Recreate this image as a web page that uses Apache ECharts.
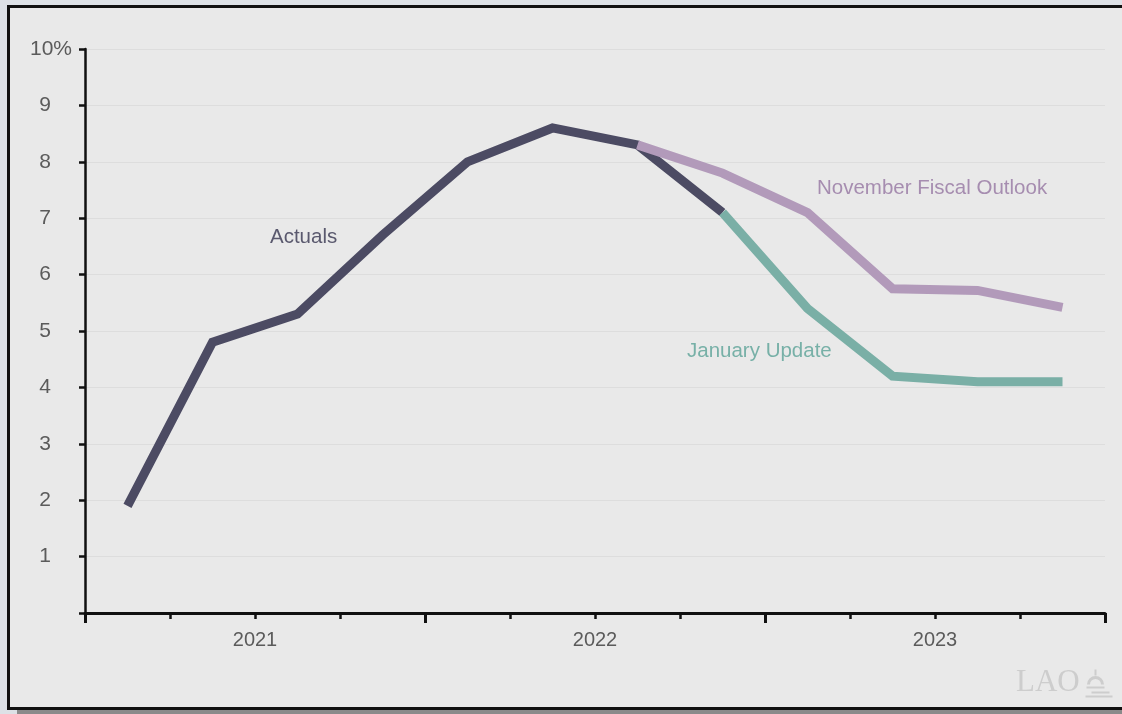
<!DOCTYPE html>
<html>
<head>
<meta charset="utf-8">
<script src="https://cdn.jsdelivr.net/npm/echarts@6/dist/echarts.min.js"></script>
<style>
  html, body { margin: 0; padding: 0; width: 1122px; height: 714px; overflow: hidden; background: #dde1e6; }
  #frame { position: absolute; left: 7px; top: 5px; width: 1130px; height: 699px;
           border: 3px solid #111; background: #e9e9e9; box-shadow: 10px 5px 0 #8a8a8a; }
  #chart { position: absolute; left: 0; top: 0; width: 1122px; height: 714px; }
</style>
</head>
<body>
<div id="frame"></div>
<div id="chart"></div>
<script>
// Quarterly categories (2021 Q1 .. 2023 Q4)
const quarters = ['2021 Q1','2021 Q2','2021 Q3','2021 Q4',
                  '2022 Q1','2022 Q2','2022 Q3','2022 Q4',
                  '2023 Q1','2023 Q2','2023 Q3','2023 Q4'];
const yearLabels = ['2021', '2022', '2023'];

// Series values (percent)
const actuals  = [1.9, 4.8, 5.3, 6.7, 8.0, 8.6, 8.3, 7.1];           // 2021 Q1 .. 2022 Q4
const novemberStart = 6;                                              // starts 2022 Q3
const november = [8.3, 7.8, 7.1, 5.75, 5.72, 5.42];
const januaryStart = 7;                                               // starts 2022 Q4
const january  = [7.1, 5.4, 4.2, 4.1, 4.1];

const yTicks = [0,1,2,3,4,5,6,7,8,9,10];

const chart = echarts.init(document.getElementById('chart'), null, { renderer: 'canvas' });
const FONT = '"Liberation Sans", Arial, Helvetica, sans-serif';
const labelColor = '#5b5b5b';

const option = {
  backgroundColor: 'transparent',
  animation: false,
  grid: { left: 85, right: 17, top: 49, bottom: 101, containLabel: false },
  xAxis: [
    {
      type: 'category', data: quarters, boundaryGap: true,
      axisLine: { show: true, lineStyle: { color: '#111', width: 3 } },
      axisTick: { show: false }, axisLabel: { show: false }, splitLine: { show: false }
    },
    {
      type: 'value', min: 0, max: 12, interval: 4, position: 'bottom',
      axisLine: { show: false },
      axisTick: { show: true, length: 10, lineStyle: { color: '#111', width: 3 } },
      axisLabel: { show: false }, splitLine: { show: false }
    },
    {
      type: 'value', min: 0, max: 12, interval: 1, position: 'bottom',
      axisLine: { show: false },
      axisTick: { show: true, length: 6, lineStyle: { color: '#111', width: 2.5 } },
      axisLabel: {
        show: true, margin: 17, fontSize: 20, fontFamily: FONT, color: labelColor,
        formatter: v => (v % 4 === 2 ? yearLabels[(v - 2) / 4] : '')
      },
      splitLine: { show: false }
    }
  ],
  yAxis: {
    type: 'value', min: yTicks[0], max: yTicks[yTicks.length - 1], interval: 1,
    axisLine: { show: true, lineStyle: { color: '#111', width: 2.5 } },
    axisTick: { show: true, length: 6, lineStyle: { color: '#111', width: 2.5 } },
    splitLine: { show: true, lineStyle: { color: '#dddddd', width: 1 } },
    axisLabel: {
      margin: 13, align: 'right', fontFamily: FONT,
      formatter: v => v === 0 ? '' : (v === 10 ? '{n|10}{p|%}' : '{n|' + v + '}{s| }'),
      rich: {
        n: { fontSize: 21, color: labelColor, fontFamily: FONT },
        p: { fontSize: 21, color: labelColor, fontFamily: FONT },
        s: { fontSize: 21, width: 21 }
      }
    }
  },
  series: [
    {
      name: 'Actuals', type: 'line', xAxisIndex: 0,
      data: actuals.map((v, i) => [quarters[i], v]),
      symbol: 'none', lineStyle: { color: '#4c4b63', width: 9, join: 'miter' }, z: 2
    },
    {
      name: 'November Fiscal Outlook', type: 'line', xAxisIndex: 0,
      data: november.map((v, i) => [quarters[i + novemberStart], v]),
      symbol: 'none', lineStyle: { color: '#b29aba', width: 9, join: 'miter' }, z: 3
    },
    {
      name: 'January Update', type: 'line', xAxisIndex: 0,
      data: january.map((v, i) => [quarters[i + januaryStart], v]),
      symbol: 'none', lineStyle: { color: '#7aafa6', width: 9, join: 'miter' }, z: 4
    }
  ],
  graphic: [
    { type: 'text', left: 270, top: 227, style: { text: 'Actuals', font: '20.5px ' + FONT, fill: '#5a596e' } },
    { type: 'text', left: 817, top: 178, style: { text: 'November Fiscal Outlook', font: '20.5px ' + FONT, fill: '#a68db0' } },
    { type: 'text', left: 687, top: 341, style: { text: 'January Update', font: '20.5px ' + FONT, fill: '#77b0a7' } },
    { type: 'text', left: 1016, top: 667, style: { text: 'LAO', font: '31px "Liberation Serif", "DejaVu Serif", serif', fill: '#cdcdcd' } },
    { type: 'group', left: 1083, top: 667, children: [
      { type: 'line', shape: { x1: 12, y1: 0, x2: 12, y2: 6 }, style: { stroke: '#cdcdcd', lineWidth: 2 } },
      { type: 'arc', shape: { cx: 12, cy: 15, r: 7, startAngle: Math.PI, endAngle: 2 * Math.PI }, style: { stroke: '#cdcdcd', lineWidth: 3, fill: null } },
      { type: 'line', shape: { x1: 3, y1: 18, x2: 21, y2: 18 }, style: { stroke: '#cdcdcd', lineWidth: 2 } },
      { type: 'line', shape: { x1: 8, y1: 23, x2: 26, y2: 23 }, style: { stroke: '#cdcdcd', lineWidth: 2 } },
      { type: 'line', shape: { x1: 2, y1: 27, x2: 29, y2: 27 }, style: { stroke: '#cdcdcd', lineWidth: 2 } }
    ]}
  ]
};
chart.setOption(option);
</script>
</body>
</html>
